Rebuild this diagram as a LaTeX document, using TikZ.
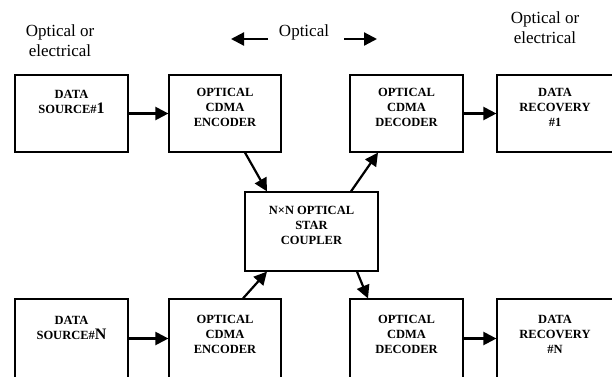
\documentclass[tikz,border=0pt]{standalone}
\usepackage{fontspec}
\setmainfont{Liberation Serif}
\usetikzlibrary{arrows.meta}
\begin{document}
\begin{tikzpicture}[x=1pt,y=-1pt,
  box/.style={draw, line width=1.2pt, minimum height=77pt, inner sep=0pt},
  boxtext/.style={align=center, inner sep=0pt, font=\bfseries\fontsize{12.5}{15}\selectfont},
  lbl/.style={align=center, inner sep=0pt, font=\fontsize{17}{20}\selectfont},
  arr/.style={line width=2.2pt, -{Triangle[length=13pt,width=13pt]}}]
\useasboundingbox (0,0) rectangle (612,376);
\clip (0,0) rectangle (612,376);
% boxes
\node[box, minimum width=113pt] (src1) at (71.5,113.5) {};
\node[box, minimum width=112pt] (enc1) at (225,113.5) {};
\node[box, minimum width=113pt] (dec1) at (406.5,113.5) {};
\node[box, minimum width=125pt] (rec1) at (559.5,113.5) {};
\node[box, minimum width=133pt, minimum height=79pt] (cpl) at (311.5,231.5) {};
\node[box, minimum width=113pt, minimum height=79pt] (src2) at (71.5,338.5) {};
\node[box, minimum width=112pt, minimum height=79pt] (enc2) at (225,338.5) {};
\node[box, minimum width=113pt, minimum height=79pt] (dec2) at (406.5,338.5) {};
\node[box, minimum width=125pt, minimum height=79pt] (rec2) at (559.5,338.5) {};
% box texts
\node[boxtext] (src1t) at (71.5,101.5) {DATA\\SOURCE\#{\fontsize{16}{15}\selectfont 1}};
\node[boxtext] (enc1t) at (225,107.5) {OPTICAL\\CDMA\\ENCODER};
\node[boxtext] (dec1t) at (406.5,107.5) {OPTICAL\\CDMA\\DECODER};
\node[boxtext] (rec1t) at (555,107.5) {DATA\\RECOVERY\\\#1};
\node[boxtext] (cplt) at (311.5,225.5) {N×N OPTICAL\\STAR\\COUPLER};
\node[boxtext] (src2t) at (71.5,328) {DATA\\SOURCE\#{\fontsize{16}{15}\selectfont N}};
\node[boxtext] (enc2t) at (225,334) {OPTICAL\\CDMA\\ENCODER};
\node[boxtext] (dec2t) at (406.5,334) {OPTICAL\\CDMA\\DECODER};
\node[boxtext] (rec2t) at (555,334) {DATA\\RECOVERY\\\#N};
% top labels
\node[lbl] (lblL) at (60,41) {Optical or\\electrical};
\node[lbl] (lblR) at (545,28) {Optical or\\electrical};
\node[lbl] (opt) at (304,32) {Optical};
\coordinate (oLs) at (268,39);
\coordinate (oLe) at (231,39);
\coordinate (oRs) at (344,39);
\coordinate (oRe) at (377,39);
\draw[arr] (oLs) -- (oLe);
\draw[arr] (oRs) -- (oRe);
% connectors
\draw[arr] (src1.east) -- (enc1.west);
\draw[arr] (dec1.east) -- (rec1.west);
\draw[arr] (src2.east) -- (enc2.west);
\draw[arr] (dec2.east) -- (rec2.west);
\draw[arr] ([xshift=20pt]enc1.south) -- ([xshift=-44.5pt]cpl.north);
\draw[arr] ([xshift=39.5pt]cpl.north) -- ([xshift=-28.5pt]dec1.south);
\draw[arr] ([xshift=18pt]enc2.north) -- ([xshift=-44.5pt]cpl.south);
\draw[arr] ([xshift=45.5pt]cpl.south) -- ([xshift=-38.5pt]dec2.north);
\end{tikzpicture}
\end{document}
